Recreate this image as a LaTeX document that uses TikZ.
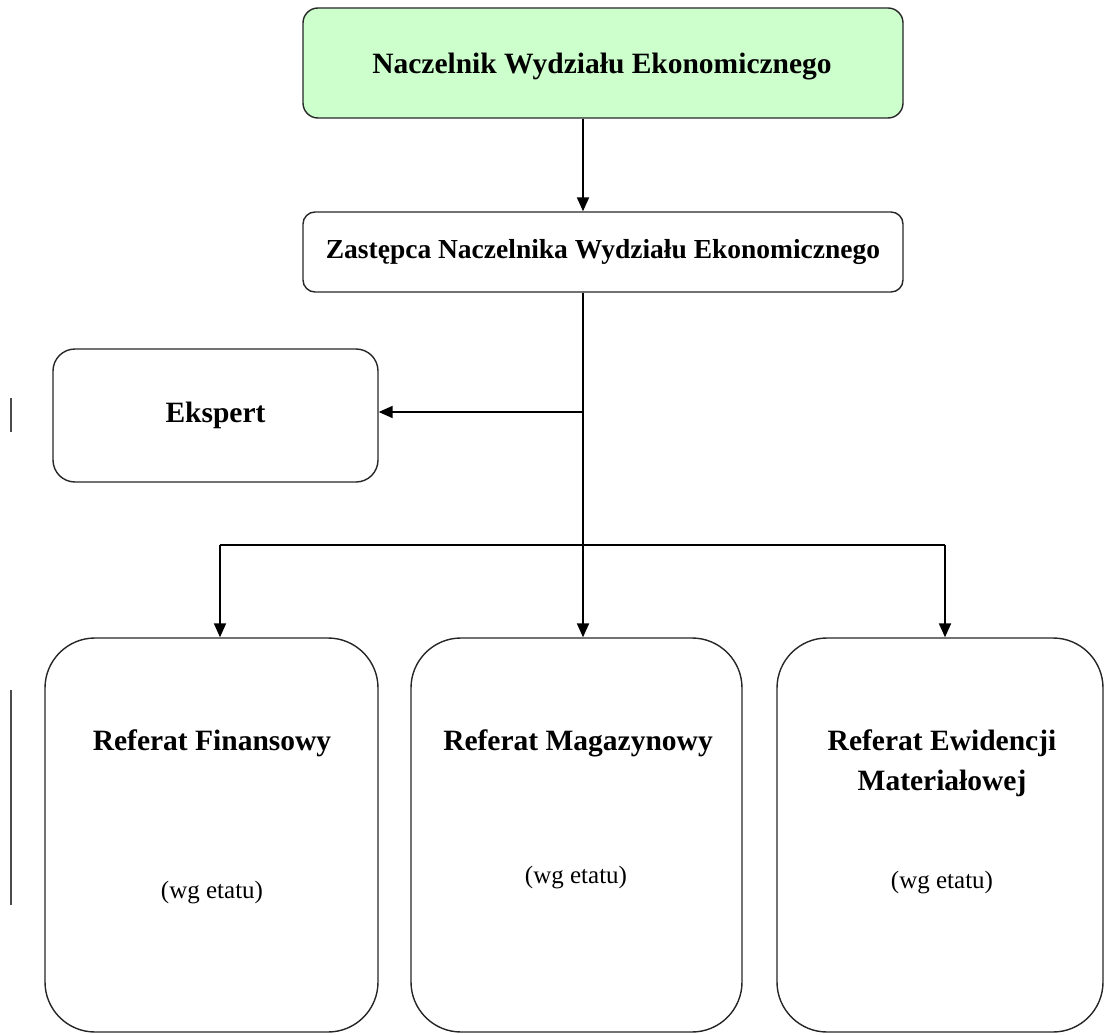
\documentclass[tikz,border=0pt]{standalone}
\usepackage{fontspec}
\setmainfont{Liberation Serif}
\usetikzlibrary{arrows.meta,calc}
\definecolor{headgreen}{RGB}{204,255,204}
\begin{document}
\begin{tikzpicture}[x=1pt,y=-1pt,
  box/.style={draw=black!85, line width=1.4pt, rectangle, inner sep=0pt},
  title/.style={font=\fontsize{29.5}{40}\selectfont\bfseries, align=center},
  note/.style={font=\fontsize{25}{30}\selectfont},
  link/.style={line width=2pt, -{Triangle[length=14pt,width=12pt]}},
  plain/.style={line width=2pt}]
\useasboundingbox (0,0) rectangle (1105,1035);

% management
\node[box, fill=headgreen, rounded corners=15pt, minimum width=600pt, minimum height=110pt] (chief) at (603,63) {};
\node[title] (chieft) at (602,67) {Naczelnik Wydziału Ekonomicznego};
\node[box, rounded corners=12pt, minimum width=600pt, minimum height=80pt,
      font=\fontsize{27.5}{34}\selectfont\bfseries] (deputy) at (603,252) {Zastępca Naczelnika Wydziału Ekonomicznego};
\node[box, rounded corners=22pt, minimum width=325pt, minimum height=133pt,
      font=\fontsize{29.5}{36}\selectfont\bfseries] (expert) at (215.5,415.5) {Ekspert};

% departments
\node[box, rounded corners=50pt, minimum width=333pt, minimum height=394pt] (fin) at (211.5,835) {};
\node[box, rounded corners=50pt, minimum width=331pt, minimum height=394pt] (mag) at (576.5,835) {};
\node[box, rounded corners=50pt, minimum width=326pt, minimum height=394pt] (rec) at (940,835) {};

\node[title] (fint) at (212,743) {Referat Finansowy};
\node[note]  (finn) at (212,893) {(wg etatu)};
\node[title] (magt) at (578,743) {Referat Magazynowy};
\node[note]  (magn) at (576,878) {(wg etatu)};
\node[title] (rect) at (942,763) {Referat Ewidencji\\Materiałowej};
\node[note]  (recn) at (942,883) {(wg etatu)};

% connector junctions
\coordinate (split) at (583,412);
\coordinate (fork)  at (583,545);
\coordinate (lfork) at (220,545);
\coordinate (rfork) at (945,545);

\draw[link]  (chief.south -| split) -- (deputy.north -| split);
\draw[plain] (deputy.south -| fork) -- (fork);
\draw[link]  (split) -- (split -| expert.east);
\draw[plain] (lfork) -- (rfork);
\draw[link]  (lfork) -- (lfork |- fin.north);
\draw[link]  (fork)  -- (fork |- mag.north);
\draw[link]  (rfork) -- (rfork |- rec.north);

% margin marks
\draw[black!70, line width=1.5pt] (11,398) -- (11,432);
\draw[black!70, line width=1.5pt] (11,690) -- (11,905);
\end{tikzpicture}
\end{document}
